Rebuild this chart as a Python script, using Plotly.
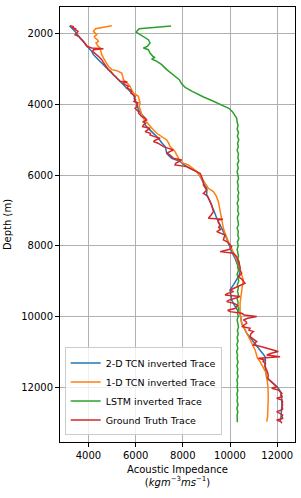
import plotly.graph_objects as go

# ---------------- data ----------------
gt_depth = [1775, 1800, 1830, 1860, 1887, 1930, 1981, 2028, 2080, 2123, 2190, 2264, 2320, 2358, 2405, 2424, 2440, 2453, 2500, 2547, 2600, 2641, 2690, 2736, 2800, 2877, 2950, 3018, 3070, 3113, 3160, 3207, 3250, 3300, 3349, 3370, 3400, 3443, 3490, 3537, 3580, 3631, 3680, 3735, 3773, 3830, 3876, 3920, 3961, 4010, 4066, 4112, 4159, 4210, 4252, 4300, 4348, 4395, 4442, 4490, 4536, 4583, 4630, 4678, 4725, 4772, 4819, 4866, 4914, 4961, 5008, 5055, 5100, 5150, 5196, 5245, 5291, 5338, 5385, 5430, 5480, 5526, 5573, 5620, 5670, 5715, 5762, 5810, 5856, 5904, 5951, 6020, 6100, 6186, 6282, 6350, 6423, 6470, 6518, 6600, 6680, 6754, 6850, 6950, 7036, 7130, 7200, 7225, 7250, 7272, 7340, 7414, 7480, 7540, 7602, 7650, 7697, 7760, 7838, 7890, 7932, 7980, 8027, 8100, 8168, 8215, 8262, 8310, 8380, 8450, 8530, 8610, 8687, 8740, 8781, 8830, 8876, 8950, 9020, 9064, 9120, 9190, 9253, 9300, 9350, 9394, 9441, 9500, 9540, 9583, 9640, 9690, 9724, 9780, 9830, 9866, 9913, 9960, 10007, 10055, 10102, 10150, 10196, 10243, 10290, 10340, 10390, 10432, 10500, 10573, 10640, 10715, 10762, 10809, 10856, 10903, 10950, 10997, 11045, 11092, 11140, 11187, 11235, 11282, 11330, 11400, 11470, 11530, 11600, 11680, 11753, 11820, 11895, 11940, 11989, 12036, 12083, 12130, 12180, 12230, 12270, 12319, 12370, 12420, 12460, 12508, 12560, 12620, 12660, 12696, 12740, 12791, 12840, 12890, 12932, 12980, 13026]
gt_imp = [3220, 3380, 3300, 3480, 3435, 3560, 3506, 3435, 3600, 3647, 3760, 3859, 3900, 3930, 4141, 4636, 4350, 4212, 4180, 4283, 4350, 4424, 4500, 4565, 4620, 4706, 4790, 4847, 4950, 4989, 5060, 5130, 5200, 5300, 5342, 5650, 5450, 5553, 5700, 5624, 5770, 5836, 5800, 5900, 5977, 5950, 6000, 5930, 6100, 6050, 6059, 5977, 6050, 6130, 6128, 6200, 6259, 6420, 6471, 6300, 6420, 6330, 6300, 6612, 6480, 6401, 6625, 6612, 6800, 7036, 6850, 6754, 6950, 7050, 7177, 7400, 7601, 7450, 7318, 7450, 7550, 7601, 7954, 7800, 7700, 7671, 8166, 8300, 8448, 8600, 8730, 8780, 8820, 8872, 8872, 8950, 9013, 8950, 8872, 9050, 9120, 9154, 9220, 9270, 9295, 9200, 9100, 9083, 9700, 9507, 9500, 9577, 9520, 9600, 9436, 9650, 9789, 9750, 9719, 9880, 9930, 9990, 10072, 10000, 9577, 10142, 10220, 10283, 10330, 10380, 10400, 10430, 10425, 10480, 10495, 10430, 10354, 10500, 10600, 10636, 10450, 10200, 10001, 10150, 9900, 9789, 10425, 10150, 9950, 9860, 10200, 10320, 10283, 10200, 9900, 10001, 10495, 10600, 11131, 10750, 10566, 10680, 10707, 10600, 10495, 10850, 10800, 10989, 10880, 10848, 11000, 11131, 11050, 10989, 11300, 11554, 11700, 12048, 11750, 11554, 12119, 11201, 11450, 11400, 11500, 11480, 11520, 11560, 11600, 11620, 11600, 11700, 11837, 11900, 11978, 11766, 12050, 12119, 12200, 12150, 12230, 11978, 12200, 12230, 12200, 12230, 12200, 12230, 12150, 11978, 12100, 12230, 12200, 12230, 11978, 12150, 12200]

tcn2_depth = [1775, 1850, 1934, 2000, 2123, 2220, 2311, 2400, 2500, 2594, 2690, 2783, 2880, 2971, 3060, 3160, 3250, 3349, 3460, 3584, 3660, 3726, 3800, 3876, 3961, 4060, 4159, 4250, 4348, 4395, 4490, 4583, 4680, 4772, 4860, 4961, 5080, 5196, 5290, 5385, 5460, 5526, 5580, 5621, 5690, 5762, 5840, 5904, 6000, 6139, 6250, 6375, 6470, 6565, 6700, 6848, 7030, 7225, 7360, 7508, 7650, 7791, 7930, 8074, 8210, 8357, 8550, 8734, 8850, 8970, 9100, 9253, 9400, 9536, 9630, 9724, 9830, 9913, 10050, 10196, 10330, 10479, 10600, 10715, 10830, 10950, 11040, 11139, 11250, 11376, 11500, 11620, 11753, 11820, 11895, 11960, 12036, 12150, 12319, 12500, 12696, 12850, 12979]
tcn2_imp = [3200, 3320, 3435, 3500, 3647, 3780, 3859, 4000, 4141, 4212, 4350, 4494, 4640, 4777, 4920, 5059, 5200, 5342, 5520, 5695, 5800, 5906, 5950, 5950, 6050, 6080, 6120, 6220, 6330, 6401, 6380, 6401, 6540, 6683, 6820, 6965, 7100, 7248, 7290, 7318, 7420, 7530, 7730, 7883, 8020, 8166, 8400, 8589, 8700, 8801, 8900, 9013, 9013, 9013, 9120, 9224, 9330, 9436, 9540, 9648, 9750, 9860, 9930, 10001, 10100, 10213, 10320, 10425, 10380, 10283, 10150, 10001, 10030, 10072, 10140, 10213, 10320, 10425, 10460, 10495, 10600, 10707, 10850, 10989, 11130, 11272, 11380, 11484, 11500, 11480, 11500, 11530, 11554, 11700, 11837, 11950, 12048, 12150, 12190, 12200, 12190, 12160, 12119]

tcn1_depth = [1775, 1820, 1860, 1934, 1981, 2028, 2080, 2123, 2170, 2217, 2264, 2311, 2360, 2405, 2500, 2594, 2690, 2783, 2850, 2924, 3018, 3047, 3113, 3200, 3301, 3400, 3490, 3580, 3678, 3773, 3870, 3961, 4060, 4159, 4280, 4395, 4490, 4583, 4700, 4819, 4920, 5008, 5100, 5196, 5270, 5338, 5480, 5621, 5670, 5715, 5810, 5904, 6000, 6092, 6230, 6375, 6470, 6600, 6754, 6900, 7036, 7225, 7370, 7508, 7650, 7791, 7900, 7980, 8070, 8168, 8290, 8404, 8600, 8828, 8970, 9100, 9253, 9450, 9630, 9780, 9913, 10060, 10196, 10380, 10573, 10670, 10762, 10860, 10950, 11080, 11186, 11282, 11420, 11565, 11700, 11848, 12036, 12319, 12500, 12696, 12850, 12979]
tcn1_imp = [4989, 4600, 4300, 4212, 4300, 4353, 4250, 4283, 4380, 4424, 4320, 4353, 4420, 4494, 4520, 4565, 4640, 4706, 4780, 4847, 4989, 5200, 5412, 5450, 5483, 5640, 5765, 5830, 5906, 6118, 6150, 6189, 6150, 6189, 6260, 6330, 6450, 6542, 6720, 6895, 7100, 7318, 7400, 7460, 7580, 7671, 7780, 7883, 8050, 8236, 8420, 8589, 8700, 8801, 8940, 9083, 9295, 9420, 9507, 9550, 9577, 9648, 9680, 9719, 9790, 9860, 9940, 10001, 10070, 10142, 10210, 10283, 10380, 10495, 10566, 10530, 10495, 10460, 10425, 10425, 10425, 10460, 10495, 10640, 10778, 10850, 10919, 11000, 11060, 11120, 11160, 11272, 11400, 11500, 11560, 11590, 11610, 11620, 11620, 11610, 11590, 11554]

lstm_top_depth = [1782, 1860, 1953, 2028, 2170, 2264, 2358, 2405, 2453, 2547, 2641, 2670, 2717, 2783, 2877, 3018, 3160, 3301, 3420, 3520, 3631, 3726, 3800, 3876, 3961, 4046, 4112, 4207, 4301, 4395, 4500]
lstm_top_imp = [7500, 6150, 6020, 6190, 6540, 6610, 6500, 6330, 6540, 6610, 6730, 6820, 6680, 6900, 7107, 7318, 7601, 7850, 7950, 8100, 8400, 8650, 8900, 9178, 9450, 9744, 9950, 10100, 10212, 10284, 10300]
lstm_tail_imp = [10340, 10300, 10360, 10310, 10370, 10320, 10350, 10300, 10360, 10330, 10370, 10310, 10350, 10300, 10340, 10360, 10310, 10350, 10320, 10370, 10330, 10360, 10300, 10350, 10320, 10370, 10310, 10340, 10360, 10300, 10350, 10330, 10370, 10310, 10350, 10300, 10340, 10360, 10310, 10350, 10320, 10360, 10300, 10340, 10370, 10310, 10350, 10320, 10360, 10300, 10340, 10330, 10370, 10310, 10350, 10300, 10340, 10360, 10310, 10350, 10300, 10340, 10290, 10330, 10280, 10320, 10300, 10340, 10290, 10330, 10300, 10340, 10290, 10320, 10300, 10330, 10290, 10320, 10300, 10340, 10290, 10330, 10300, 10320, 10310]
lstm_tail_depth = [4600 + 100 * i for i in range(len(lstm_tail_imp))]
lstm_depth = lstm_top_depth + lstm_tail_depth
lstm_imp = lstm_top_imp + lstm_tail_imp

x_ticks = [4000, 6000, 8000, 10000, 12000]
y_ticks = [2000, 4000, 6000, 8000, 10000, 12000]

# ---------------- figure ----------------
FONT = "DejaVu Sans"
fig = go.Figure()
series = [
    ("2-D TCN inverted Trace", tcn2_imp, tcn2_depth, "#1f77b4"),
    ("1-D TCN inverted Trace", tcn1_imp, tcn1_depth, "#ff7f0e"),
    ("LSTM inverted Trace", lstm_imp, lstm_depth, "#2ca02c"),
    ("Ground Truth Trace", gt_imp, gt_depth, "#d62728"),
]
for name, xs, ys, col in series:
    fig.add_trace(go.Scatter(x=xs, y=ys, mode="lines", name=name,
                             line=dict(color=col, width=1.5)))

axis_common = dict(showgrid=True, gridcolor="#b0b0b0", gridwidth=0.8,
                   showline=True, linecolor="black", linewidth=1, mirror=True,
                   ticks="outside", ticklen=4, tickcolor="black", tickwidth=1,
                   zeroline=False, tickfont=dict(family=FONT, size=10, color="black"))

fig.update_layout(
    width=301, height=498,
    margin=dict(l=60, r=6, t=7, b=56),
    paper_bgcolor="white", plot_bgcolor="white",
    font=dict(family=FONT, size=10, color="black"),
    xaxis=dict(range=[2796, 12753], tickvals=x_ticks, ticktext=[str(v) for v in x_ticks],
               title=dict(text="Acoustic Impedance<br>(<i>kgm</i><sup>−3</sup><i>ms</i><sup>−1</sup>)",
                          standoff=5, font=dict(family=FONT, size=10)),
               automargin=False, **axis_common),
    yaxis=dict(range=[13556, 1245], tickvals=y_ticks, ticktext=[str(v) for v in y_ticks],
               title=dict(text="Depth (m)", standoff=7, font=dict(family=FONT, size=10)),
               automargin=False, **axis_common),
    legend=dict(x=0.02, y=0.015, xanchor="left", yanchor="bottom",
                bgcolor="rgba(255,255,255,0.8)", bordercolor="#cccccc", borderwidth=1,
                font=dict(family=FONT, size=9.5), itemwidth=30, tracegroupgap=0),
    showlegend=True,
)

fig.write_html("out.html", config={"displayModeBar": False},
               post_script="document.body.style.margin='0';document.body.style.padding='0';")
